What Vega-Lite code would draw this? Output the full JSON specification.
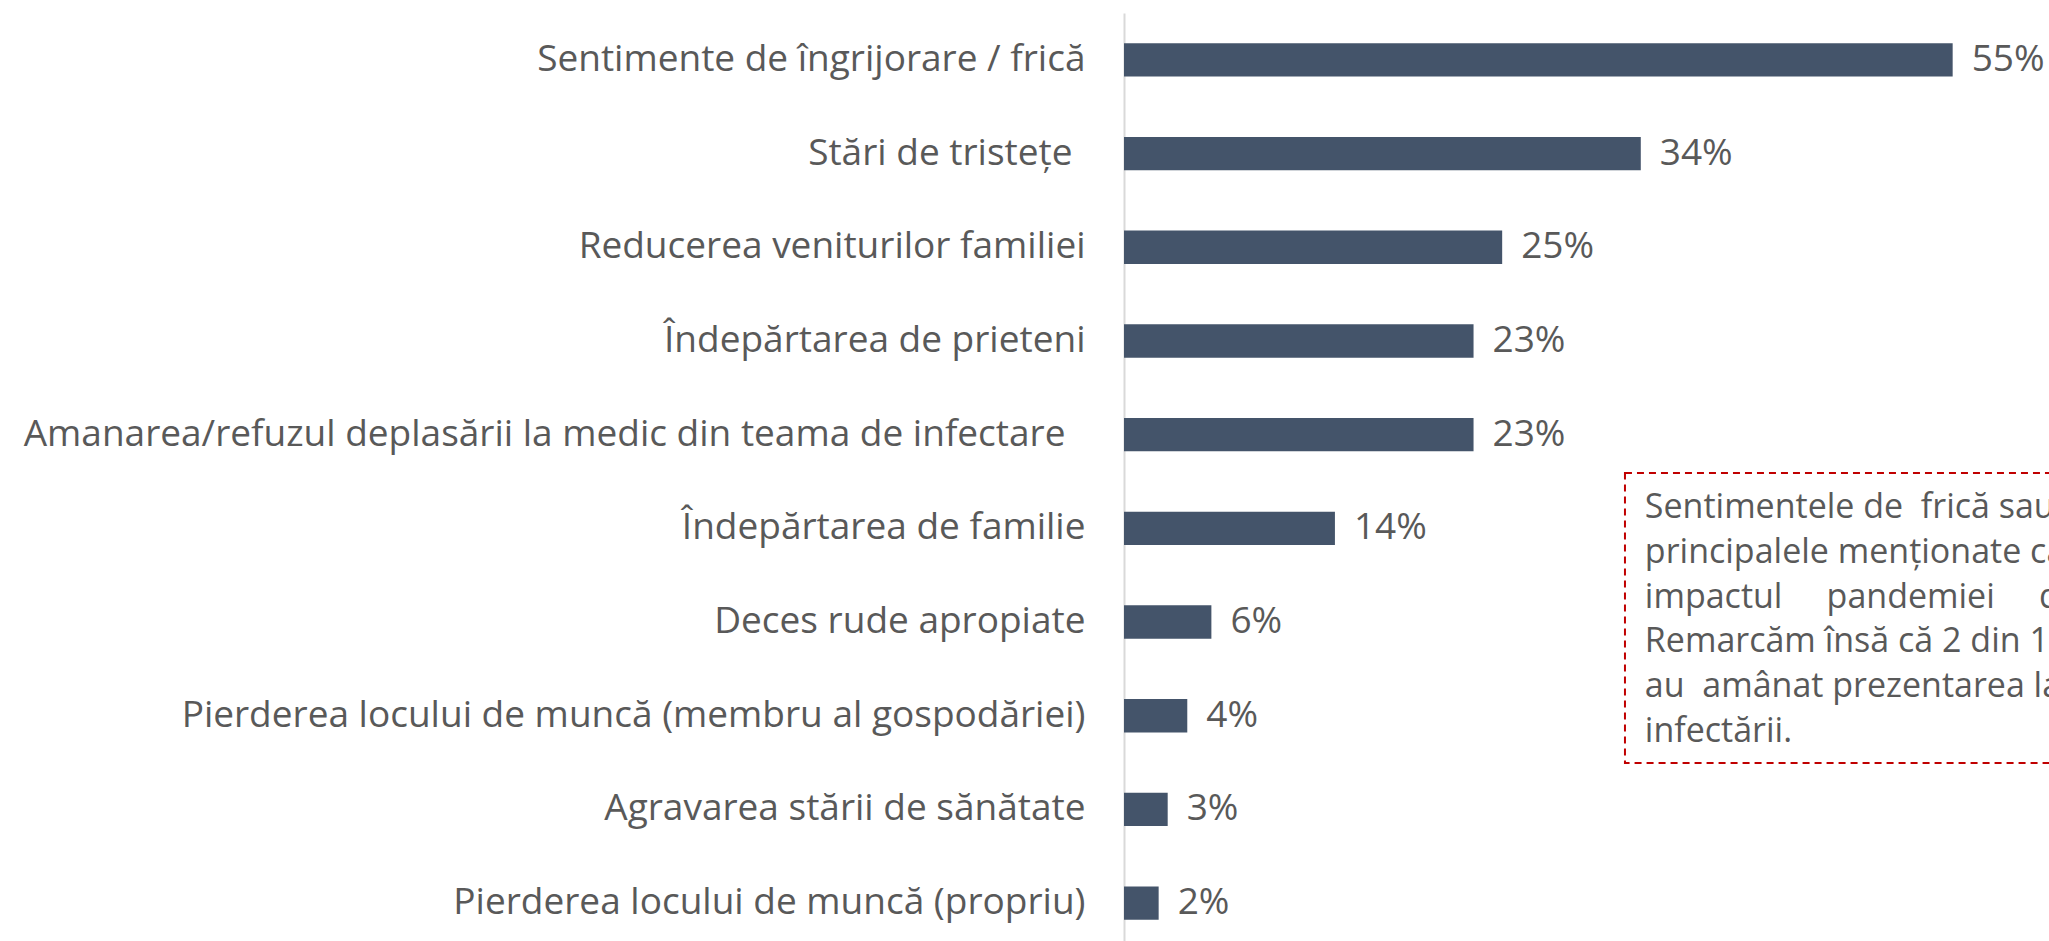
{
  "$schema": "https://vega.github.io/schema/vega-lite/v6.json",
  "autosize": {"type": "none"},
  "padding": {"left": 1124, "top": 13, "right": 40, "bottom": 0},
  "width": 904,
  "height": 937,
  "background": "white",
  "config": {"view": {"stroke": null}, "font": "Open Sans"},
  "layer": [
    {
      "data": {"values": [
        {"item": "Sentimente de îngrijorare / frică", "share": 0.55},
        {"item": "Stări de tristețe ", "share": 0.343},
        {"item": "Reducerea veniturilor familiei", "share": 0.251},
        {"item": "Îndepărtarea de prieteni", "share": 0.232},
        {"item": "Amanarea/refuzul deplasării la medic din teama de infectare ", "share": 0.232},
        {"item": "Îndepărtarea de familie", "share": 0.14},
        {"item": "Deces rude apropiate", "share": 0.058},
        {"item": "Pierderea locului de muncă (membru al gospodăriei)", "share": 0.042},
        {"item": "Agravarea stării de sănătate", "share": 0.029},
        {"item": "Pierderea locului de muncă (propriu)", "share": 0.023}
      ]},
      "encoding": {
        "y": {
          "field": "item", "type": "nominal", "sort": null,
          "scale": {"paddingInner": 0.644, "paddingOuter": 0.323},
          "axis": {
            "title": null, "ticks": false, "tickSize": 0,
            "labelPadding": {"condition": [
              {"test": "indexof(datum.value, 'Stări') === 0", "value": 52},
              {"test": "indexof(datum.value, 'Amanarea') === 0", "value": 59}
            ], "value": 39},
            "labelFontSize": 37, "labelColor": "#595959", "labelFont": "Open Sans",
            "labelLimit": 1200, "domainColor": "#d9d9d9", "domainWidth": 2, "grid": false
          }
        },
        "x": {"field": "share", "type": "quantitative", "scale": {"domain": [0, 0.6]}, "axis": null}
      },
      "layer": [
        {"mark": {"type": "bar", "color": "#44546a"}},
        {
          "mark": {"type": "text", "align": "left", "baseline": "middle", "dx": 19, "fontSize": 37, "color": "#595959", "font": "Open Sans"},
          "encoding": {"text": {"field": "share", "type": "quantitative", "format": ".0%"}}
        }
      ]
    },
    {
      "data": {"values": [
        {"note": "Sentimentele de\u00a0 frică sau îngrijorare sunt\nprincipalele menționate când vorbim despre\nimpactul\u00a0\u00a0\u00a0\u00a0 pandemiei\u00a0\u00a0\u00a0\u00a0 de COVID-19.\nRemarcăm însă că 2 din 10 respondenți\nau\u00a0 amânat prezentarea la medic din teama\ninfectării."}
      ]},
      "layer": [
        {
          "mark": {"type": "rect", "filled": false, "stroke": "#c00000", "strokeWidth": 2, "strokeDash": [7, 5]},
          "encoding": {
            "x": {"datum": 0.3325, "type": "quantitative"},
            "x2": {"datum": 0.64},
            "y": {"datum": 4.909, "type": "quantitative", "scale": {"domain": [0, 10], "reverse": true, "nice": false}, "axis": null},
            "y2": {"datum": 8.004}
          }
        },
        {
          "mark": {"type": "text", "align": "left", "baseline": "alphabetic", "fontSize": 34, "lineHeight": 44.8, "lineBreak": "\n", "color": "#595959", "font": "Open Sans"},
          "encoding": {
            "x": {"datum": 0.3457, "type": "quantitative"},
            "y": {"datum": 5.389, "type": "quantitative", "scale": {"domain": [0, 10], "reverse": true, "nice": false}, "axis": null},
            "text": {"field": "note", "type": "nominal"}
          }
        }
      ]
    }
  ],
  "resolve": {"scale": {"y": "independent"}}
}
